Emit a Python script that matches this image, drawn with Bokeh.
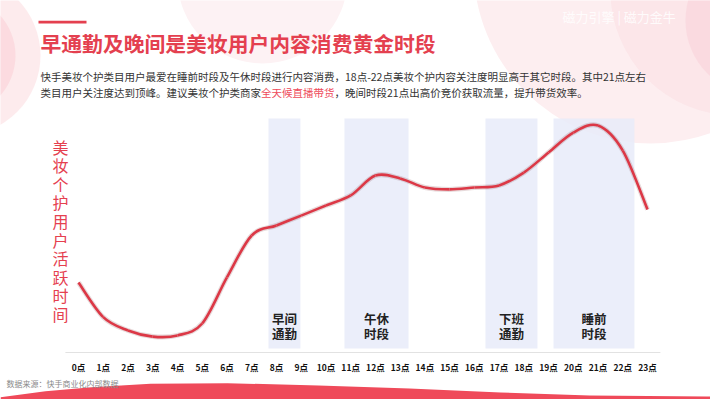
from bokeh.plotting import figure
from bokeh.models import Range1d, ColumnDataSource, Label
from bokeh.core.properties import value
from bokeh.embed import file_html
from bokeh.resources import INLINE

# ---------------- data ----------------
hours = list(range(24))
hour_labels = ["0点", "1点", "2点", "3点", "4点", "5点", "6点", "7点", "8点", "9点", "10点", "11点",
               "12点", "13点", "14点", "15点", "16点", "17点", "18点", "19点", "20点", "21点", "22点", "23点"]
activity = [29.9, 15.1, 9.4, 6.8, 7.3, 12.4, 32.1, 50.0, 54.3, 58.5, 62.8, 67.1,
            75.6, 74.4, 70.5, 69.7, 70.5, 71.4, 76.9, 85.5, 94.0, 97.0, 86.3, 61.1]
period_names = ["早间\n通勤", "午休\n时段", "下班\n通勤", "睡前\n时段"]
period_start = [7.68, 10.75, 16.45, 19.2]
period_end = [8.97, 13.34, 18.55, 22.47]

title_text = "早通勤及晚间是美妆用户内容消费黄金时段"
para_line1 = "快手美妆个护类目用户最爱在睡前时段及午休时段进行内容消费，18点-22点美妆个护内容关注度明显高于其它时段。其中21点左右"
para_line2_a = "类目用户关注度达到顶峰。建议美妆个护类商家"
para_line2_b = "全天候直播带货"
para_line2_c = "，晚间时段21点出高价竞价获取流量，提升带货效率。"
y_label = "美妆个护用户活跃时间"
source_text = "数据来源：快手商业化内部数据"
logo_text = "磁力引擎 | 磁力金牛"

FONT = "Noto Sans CJK SC"
CJK = value(FONT)
RED = "#e4404f"

# ---------------- figure ----------------
W, H = 710, 399
X0, DX, Y0, DY = 78.0, 24.74, 352.0, 2.34
p = figure(width=W, height=H, title=None,
           x_range=Range1d((0 - X0) / DX, (W - X0) / DX),
           y_range=Range1d((Y0 - H) / DY, (Y0 - 0) / DY),
           output_backend="svg", toolbar_location=None,
           x_axis_location=None, y_axis_location=None, min_border=0)
p.grid.visible = False
p.outline_line_color = None
p.background_fill_color = "white"
p.border_fill_color = "white"
p.extra_x_ranges = {"px": Range1d(0, W)}
p.extra_y_ranges = {"px": Range1d(H, 0)}
PX = dict(x_range_name="px", y_range_name="px")

# ---------------- background decorations ----------------
p.circle(x=[650], y=[-34], radius=177, fill_color="#fdeef0", line_color=None, **PX)
p.circle(x=[735], y=[-10], radius=125, fill_color="#fbdde2", fill_alpha=0.5, line_color=None, **PX)
p.circle(x=[760], y=[20], radius=75, fill_color="#f8cdd4", fill_alpha=0.45, line_color=None, **PX)
p.circle(x=[262], y=[-22], radius=85, fill_color="#fdf2f4", line_color=None, **PX)
p.circle(x=[-40], y=[55], radius=80, fill_color="#fde6e9", fill_alpha=0.8, line_color=None, **PX)
p.circle(x=[-45], y=[55], radius=60, fill_color="#fbd4da", fill_alpha=0.7, line_color=None, **PX)

p.patch(x=[0, 45, 91, 150, 227, 318, 409, 500, 589, 706, 712, 712, 0],
        y=[396.7, 390.7, 386.7, 383.3, 382.7, 385, 388, 392, 395, 396, 396, 400, 400],
        fill_color="#ef4a5a", line_color=None, **PX)

p.add_layout(Label(x=562, y=16, text=logo_text, text_font=FONT, text_font_size="13px",
                   text_color="white", text_alpha=0.85, text_baseline="middle", **PX))

# ---------------- header ----------------
p.quad(left=[38], right=[86], top=[20.3], bottom=[23.0], fill_color=RED, line_color=None, **PX)
p.add_layout(Label(x=40, y=42, text=title_text, text_font=FONT, text_font_size="20.8px",
                   text_font_style="bold", text_color=RED, text_baseline="middle", **PX))
FS = 10.5
p.add_layout(Label(x=40, y=76, text=para_line1, text_font=FONT, text_font_size=f"{FS}px",
                   text_color="#333333", text_baseline="middle", **PX))
xa = 40
xb = xa + FS * len(para_line2_a)
xc = xb + FS * len(para_line2_b)
p.add_layout(Label(x=xa, y=92, text=para_line2_a, text_font=FONT, text_font_size=f"{FS}px",
                   text_color="#333333", text_baseline="middle", **PX))
p.add_layout(Label(x=xb, y=92, text=para_line2_b, text_font=FONT, text_font_size=f"{FS}px",
                   text_color="#ee4a5a", text_baseline="middle", **PX))
p.add_layout(Label(x=xc, y=92, text=para_line2_c, text_font=FONT, text_font_size=f"{FS}px",
                   text_color="#333333", text_baseline="middle", **PX))

# ---------------- period bands ----------------
bands = ColumnDataSource(dict(left=period_start, right=period_end,
                              mid=[(a + b) / 2 for a, b in zip(period_start, period_end)],
                              name=period_names))
p.quad(left="left", right="right", bottom=1.7, top=100, source=bands,
       fill_color="#e8ebf9", fill_alpha=0.85, line_color=None)
p.text(x="mid", y=11.3, text="name", source=bands, text_font=CJK, text_font_size="12.5px",
       text_font_style="bold", text_color="#222222", text_align="center",
       text_baseline="middle", text_line_height=0.83)

# ---------------- axis line & tick labels ----------------
p.segment(x0=[-0.53], y0=[0], x1=[23.52], y1=[0], line_color="#e2e2e2", line_width=1.2)
ticks = ColumnDataSource(dict(x=hours, label=hour_labels))
p.text(x="x", y=-6.0, text="label", source=ticks, text_font=CJK, text_font_size="8.5px",
       text_font_style="bold", text_color="#111111", text_align="center", text_baseline="middle")

# ---------------- smooth curve (Catmull-Rom rendered as cubic Beziers) ----------------
n = len(hours)
bx0, by0, bx1, by1, cx0, cy0, cx1, cy1 = ([] for _ in range(8))
for i in range(n - 1):
    x_prev, y_prev = hours[max(i - 1, 0)], activity[max(i - 1, 0)]
    x_a, y_a = hours[i], activity[i]
    x_b, y_b = hours[i + 1], activity[i + 1]
    x_next, y_next = hours[min(i + 2, n - 1)], activity[min(i + 2, n - 1)]
    bx0.append(x_a); by0.append(y_a); bx1.append(x_b); by1.append(y_b)
    cx0.append(x_a + (x_b - x_prev) / 6); cy0.append(y_a + (y_b - y_prev) / 6)
    cx1.append(x_b - (x_next - x_a) / 6); cy1.append(y_b - (y_next - y_a) / 6)
curve = ColumnDataSource(dict(x0=bx0, y0=by0, x1=bx1, y1=by1, cx0=cx0, cy0=cy0, cx1=cx1, cy1=cy1))
p.bezier(x0="x0", y0="y0", x1="x1", y1="y1", cx0="cx0", cy0="cy0", cx1="cx1", cy1="cy1",
         source=curve, line_color="#7a3038", line_alpha=0.18, line_width=5)
p.bezier(x0="x0", y0="y0", x1="x1", y1="y1", cx0="cx0", cy0="cy0", cx1="cx1", cy1="cy1",
         source=curve, line_color="#dc3846", line_width=2.6)

# ---------------- y label & source ----------------
p.add_layout(Label(x=60, y=134, text="\n".join(y_label), text_font=FONT, text_font_size="16px",
                   text_color="#e5404f", text_align="center", text_baseline="top",
                   text_line_height=0.776, **PX))
p.add_layout(Label(x=6, y=383, text=source_text, text_font=FONT, text_font_size="8px",
                   text_color="#8a8a8a", text_baseline="middle", **PX))

open("out.html", "w").write(file_html(p, INLINE))
